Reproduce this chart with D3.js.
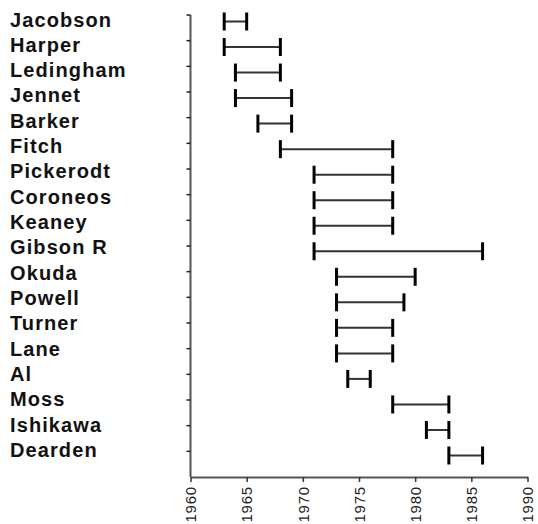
<!DOCTYPE html>
<html><head><meta charset="utf-8">
<script src="https://cdn.jsdelivr.net/npm/d3@7"></script>
<style>body{margin:0;background:#fff}svg{display:block}</style>
</head><body>
<svg id="c" width="538" height="524"></svg>
<script>
const studies = ["Jacobson","Harper","Ledingham","Jennet","Barker","Fitch","Pickerodt","Coroneos","Keaney","Gibson R","Okuda","Powell","Turner","Lane","Al","Moss","Ishikawa","Dearden"];
const startYears = [1963,1963,1964,1964,1966,1968,1971,1971,1971,1971,1973,1973,1973,1973,1974,1978,1981,1983];
const endYears   = [1965,1968,1968,1969,1969,1978,1978,1978,1978,1986,1980,1979,1978,1978,1976,1983,1983,1986];
const yearTicks = [1960,1965,1970,1975,1980,1985,1990];

const data = studies.map((s,i)=>({name:s,start:startYears[i],end:endYears[i]}));
const svg = d3.select("#c");

const x = d3.scaleLinear().domain([1960,1990]).range([190.5,527.5]);
const band = d3.scaleBand().domain(studies).range([15,477]).paddingInner(0).paddingOuter(0);
const yMark = d3.scalePoint().domain(studies).range([21.5,455.5]);
const yLab = d3.scalePoint().domain(studies).range([26.5,457]);

const axisColor = "#555";
// vertical axis
svg.append("line").attr("x1",x(1960)).attr("x2",x(1960)).attr("y1",band(studies[0])).attr("y2",477)
  .attr("stroke",axisColor).attr("stroke-width",2);
svg.append("g").selectAll("line").data(studies).join("line")
  .attr("x1",x(1960)-4).attr("x2",x(1960)).attr("y1",d=>band(d)).attr("y2",d=>band(d))
  .attr("stroke","#222").attr("stroke-width",1.5);

// bottom axis
const xAxis = d3.axisBottom(x).tickValues(yearTicks).tickFormat(d3.format("d")).tickSize(5).tickSizeOuter(0);
const gx = svg.append("g").attr("transform","translate(0,477)").call(xAxis);
gx.select(".domain").attr("stroke",axisColor).attr("stroke-width",2);
gx.selectAll(".tick line").attr("stroke","#333").attr("stroke-width",1.5);
gx.selectAll(".tick text")
  .attr("transform","rotate(-90)").attr("text-anchor","end")
  .attr("x",-9).attr("y",0).attr("dy","0.35em")
  .attr("font-family","'Liberation Sans', Arial, sans-serif").attr("font-size",15).attr("letter-spacing",0.8).attr("fill","#222");

// labels
svg.append("g").selectAll("text").data(data).join("text")
  .attr("x",10).attr("y",d=>yLab(d.name))
  .attr("font-family","'Liberation Sans', Arial, sans-serif").attr("font-size",20).attr("font-weight","bold")
  .attr("letter-spacing",1.1).attr("fill","#111").text(d=>d.name);

// intervals
const g = svg.append("g");
const capH = 9;
g.selectAll("line.h").data(data).join("line").attr("class","h")
  .attr("x1",d=>x(d.start)).attr("x2",d=>x(d.end)).attr("y1",d=>yMark(d.name)).attr("y2",d=>yMark(d.name))
  .attr("stroke","#333").attr("stroke-width",2);
g.selectAll("line.l").data(data).join("line").attr("class","l")
  .attr("x1",d=>x(d.start)).attr("x2",d=>x(d.start)).attr("y1",d=>yMark(d.name)-capH).attr("y2",d=>yMark(d.name)+capH)
  .attr("stroke","#000").attr("stroke-width",3);
g.selectAll("line.r").data(data).join("line").attr("class","r")
  .attr("x1",d=>x(d.end)).attr("x2",d=>x(d.end)).attr("y1",d=>yMark(d.name)-capH).attr("y2",d=>yMark(d.name)+capH)
  .attr("stroke","#000").attr("stroke-width",3);
</script>
</body></html>
